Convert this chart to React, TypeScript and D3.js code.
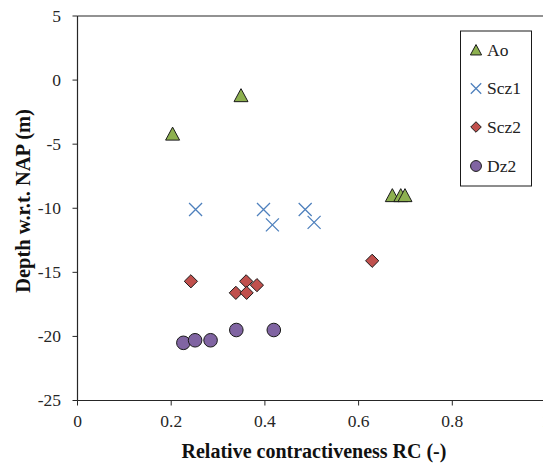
import React from "react";
import * as d3 from "d3";

const xTicks = [0, 0.2, 0.4, 0.6, 0.8, 1];
const xTickLabels = ["0", "0.2", "0.4", "0.6", "0.8", "1"];
const yTicks = [5, 0, -5, -10, -15, -20, -25];

const aoX = [0.203, 0.349, 0.672, 0.69, 0.699];
const aoY = [-4.2, -1.2, -9.0, -9.0, -9.0];
const scz1X = [0.252, 0.397, 0.416, 0.486, 0.505];
const scz1Y = [-10.1, -10.1, -11.3, -10.1, -11.1];
const scz2X = [0.242, 0.36, 0.383, 0.338, 0.361, 0.629];
const scz2Y = [-15.7, -15.7, -16.0, -16.6, -16.6, -14.1];
const dz2X = [0.226, 0.251, 0.284, 0.339, 0.419];
const dz2Y = [-20.5, -20.3, -20.3, -19.5, -19.5];

const seriesNames = ["Ao", "Scz1", "Scz2", "Dz2"];
const colors = ["#8DB04F", "#4F81BD", "#C0504D", "#8064A2"];
const shapes = ["triangle", "cross", "diamond", "circle"];

const W = 543;
const H = 464;
const left = 77.5;
const top = 16;
const bottom = 400.5;
const right = 546;

const font = "'Liberation Serif', 'DejaVu Serif', serif";

function Marker({ shape, color, s }: { shape: string; color: string; s: number }) {
  if (shape === "triangle") {
    const p = d3.path();
    p.moveTo(0, -6.8 * s);
    p.lineTo(7 * s, 6.2 * s);
    p.lineTo(-7 * s, 6.2 * s);
    p.closePath();
    return <path d={p.toString()} fill={color} stroke="#1a1a1a" strokeWidth={1} />;
  }
  if (shape === "diamond") {
    const p = d3.path();
    const r = 6.6 * s;
    p.moveTo(0, -r);
    p.lineTo(r, 0);
    p.lineTo(0, r);
    p.lineTo(-r, 0);
    p.closePath();
    return <path d={p.toString()} fill={color} stroke="#1a1a1a" strokeWidth={1} />;
  }
  if (shape === "circle") {
    return <circle r={6.8 * s} fill={color} stroke="#1a1a1a" strokeWidth={1} />;
  }
  const r = 6.5 * s;
  const p = d3.path();
  p.moveTo(-r, -r);
  p.lineTo(r, r);
  p.moveTo(r, -r);
  p.lineTo(-r, r);
  return <path d={p.toString()} fill="none" stroke={color} strokeWidth={1.3} />;
}

export default function App() {
  const x = d3.scaleLinear().domain([0, 1]).range([left, right]);
  const y = d3.scaleLinear().domain([5, -25]).range([top, bottom]);

  const series = [
    { xs: aoX, ys: aoY },
    { xs: scz1X, ys: scz1Y },
    { xs: scz2X, ys: scz2Y },
    { xs: dz2X, ys: dz2Y },
  ];

  const legendRows = [50, 88.5, 127, 166];

  return (
    <svg
      width={W}
      height={H}
      style={{ position: "absolute", left: 0, top: 0, background: "#fff" }}
      fontFamily={font}
    >
      <rect x={0} y={0} width={W} height={H} fill="#fff" />
      <line x1={left} y1={top} x2={right} y2={top} stroke="#262626" strokeWidth={1.2} />
      <line x1={left} y1={top} x2={left} y2={bottom} stroke="#262626" strokeWidth={1.2} />
      <line x1={left} y1={bottom} x2={right} y2={bottom} stroke="#262626" strokeWidth={1.2} />
      <line x1={right} y1={top} x2={right} y2={bottom} stroke="#262626" strokeWidth={1.2} />

      {xTicks.map((t, i) => (
        <g key={"xt" + i} transform={`translate(${x(t)},${bottom})`}>
          <line y1={0} y2={5} stroke="#262626" strokeWidth={1} />
          <text y={26} textAnchor="middle" fontSize={17.5} fill="#262626">
            {xTickLabels[i]}
          </text>
        </g>
      ))}
      {yTicks.map((t, i) => (
        <g key={"yt" + i} transform={`translate(${left},${y(t)})`}>
          <line x1={0} x2={-5} stroke="#262626" strokeWidth={1} />
          <text x={-16.5} dy="0.34em" textAnchor="end" fontSize={17.5} fill="#262626">
            {String(t)}
          </text>
        </g>
      ))}

      {series.map((s, si) =>
        s.xs.map((xv, i) => (
          <g key={`m${si}-${i}`} transform={`translate(${x(xv)},${y(s.ys[i])})`}>
            <Marker shape={shapes[si]} color={colors[si]} s={1} />
          </g>
        ))
      )}

      <text
        x={314}
        y={458}
        textAnchor="middle"
        fontSize={20}
        fontWeight="bold"
        fill="#111"
      >
        Relative contractiveness RC (-)
      </text>
      <text
        transform={`translate(30,201) rotate(-90)`}
        textAnchor="middle"
        fontSize={20.5}
        fontWeight="bold"
        fill="#111"
      >
        Depth w.r.t. NAP (m)
      </text>

      <rect x={460.5} y={31} width={71} height={155} fill="#fff" stroke="#1a1a1a" strokeWidth={1} />
      {seriesNames.map((n, i) => (
        <g key={"lg" + i}>
          <g transform={`translate(476,${legendRows[i]})`}>
            <Marker shape={shapes[i]} color={colors[i]} s={0.8} />
          </g>
          <text x={487} y={legendRows[i]} dy="0.34em" fontSize={17.5} fill="#222">
            {n}
          </text>
        </g>
      ))}
    </svg>
  );
}
